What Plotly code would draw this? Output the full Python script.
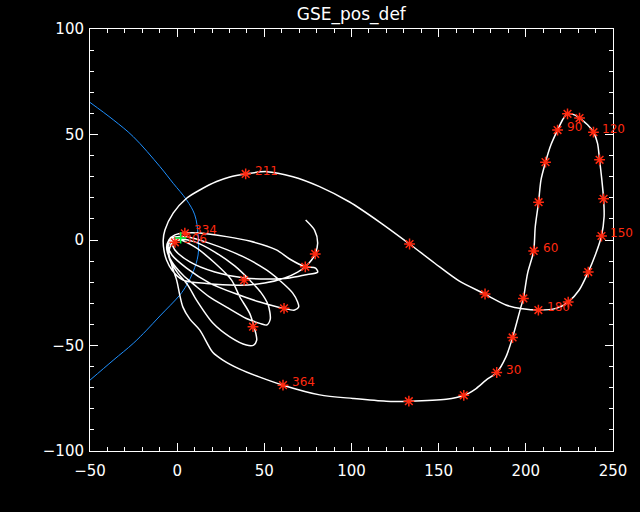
import plotly.graph_objects as go

# trajectory in GSE (Re), in time order
petal_x = [-3.6, -1.3, 7.3, 21.6, 38.8, 53.1, 64.5, 73.1, 80.6, 79.4, 73.5, 64.5, 56.9, 41.6, 28.3, 13.0, 4.4, -1.3, -4.8, -5.3,
           -3.0, 5.4, 18.7, 34.0, 47.4, 61.1, 67.4, 69.7, 69.1, 66.3, 60.5, 51.2, 37.8, 18.7, 6.1, -1.3, -5.3, -5.9,
           -3.0, 3.3, 10.1, 18.7, 28.3, 39.7, 47.4, 51.4, 53.4, 52.2, 47.9, 41.6, 33.0, 21.6, 10.1, 1.5, -3.0, -5.3,
           -4.2, 0.4, 6.1, 11.1, 20.6, 30.2, 39.7, 43.9, 45.6, 45.5, 44.1, 41.6, 35.9, 31.2, 21.6, 10.1, 1.5, -3.0]
petal_y = [-0.5, -4.7, -10.4, -15.2, -18.0, -18.5, -18.0, -16.6, -15.2, -13.3, -12.7, -9.0, -4.7, -0.5, 1.6, 3.3, 3.3, 2.4, 0.0, -2.8,
           -7.1, -13.3, -20.4, -25.6, -29.4, -32.4, -33.2, -31.8, -29.4, -25.2, -20.4, -14.2, -7.9, -1.6, 1.4, 1.4, -0.9, -4.7,
           -10.4, -16.6, -21.4, -27.1, -31.8, -37.2, -39.5, -40.3, -37.5, -30.8, -24.7, -19.0, -12.3, -5.7, -0.9, 0.5, 0.0, -3.3,
           -9.5, -15.7, -21.4, -28.5, -39.5, -45.9, -49.8, -49.8, -47.5, -45.9, -41.1, -34.8, -26.9, -19.0, -10.9, -3.3, 0.0, -0.9]

transfer_x = [-3.0, -4.8, -3.0, -0.3, 1.5, 3.3, 7.3, 13.0, 20.4, 26.2, 35.9, 47.4, 60.7, 81.8, 100.8, 119.9, 132.9,
              154.3, 164.4, 171.5, 177.2, 183.3, 188.6, 192.4, 197.2, 198.6, 201.0, 204.5, 205.4, 207.3, 208.7, 211.3,
              214.4, 218.2]
transfer_y = [-0.9, -5.7, -12.3, -19.0, -26.1, -31.8, -37.5, -42.7, -53.2, -56.9, -61.2, -65.0, -68.8, -73.4, -75.1,
              -76.4, -76.4, -75.5, -73.7, -70.4, -66.4, -62.8, -55.4, -46.2, -31.7, -27.7, -15.8, -5.2, 6.3, 17.9, 28.5,
              36.9, 45.1, 52.1]

halo_x = [218.2, 221.1, 223.9, 227.8, 230.8, 235.4, 238.8, 241.1, 242.3, 243.6, 244.6, 244.9, 243.4, 240.2, 235.8,
          230.6, 224.3, 217.3, 207.2, 198.2, 188.6, 181.0, 176.6]
halo_y = [52.1, 57.0, 59.8, 59.3, 57.8, 54.6, 51.1, 45.9, 38.0, 28.5, 19.5, 11.1, 1.9, -6.3, -15.2, -23.7, -29.4,
          -32.4, -33.2, -32.6, -30.8, -27.7, -25.6]

return_x = [176.6, 161.9, 147.6, 133.3, 116.1, 98.9, 81.7, 66.4, 51.2, 39.3, 30.2, 22.6, 13.0, 5.4, -2.3, -7.0, -8.0,
            -7.6, -6.1, -3.0, 3.4, 16.8, 35.9, 50.2, 61.7, 69.1, 73.5, 77.1, 79.2, 80.6, 78.8, 73.7]
return_y = [-25.6, -19.5, -10.9, -1.9, 8.5, 18.0, 25.3, 30.0, 32.4, 31.3, 29.9, 27.7, 23.7, 19.8, 12.7, 4.7, 0.0,
            -4.7, -9.5, -14.2, -19.0, -20.6, -21.4, -20.4, -18.0, -15.2, -12.7, -9.5, -6.6, -1.4, 4.7, 9.5]

# 10-day markers
mark_x = [4.4, -1.3, 38.4, 61.3, 43.5, 60.7, 132.9, 164.4, 183.3, 192.4, 198.6, 204.5, 207.3, 211.3, 218.2, 223.9,
          230.8, 238.8, 242.3, 244.6, 243.4, 235.8, 224.3, 207.2, 176.6, 133.3, 39.3, 73.5, 79.2]
mark_y = [3.2, -1.1, -19.0, -32.4, -41.1, -68.8, -76.4, -73.6, -62.8, -46.2, -27.7, -5.2, 17.9, 36.9, 52.1, 59.8,
          57.8, 51.1, 38.0, 19.5, 1.9, -15.2, -29.4, -33.2, -25.6, -1.9, 31.3, -12.7, -6.6]

# day labels
day_text = ["30", "60", "90", "120", "150", "180", "211", "334", "306", "364"]
day_x = [183.3, 204.5, 218.2, 238.8, 243.4, 207.2, 39.3, 4.4, -1.3, 60.7]
day_y = [-62.8, -5.2, 52.1, 51.1, 1.9, -33.2, 31.3, 3.2, -1.1, -68.8]

# bow shock
bs_x = [-50, -36.7, -25.2, -9.9, -2.3, 5.4, 10.1, 12.0, 12.0, 9.2, 5.4, 1.5, -9.9, -17.5, -25.2, -36.7, -50]
bs_y = [65.2, 57, 49, 34.8, 26.9, 19, 11.9, 2.4, -7.1, -15, -21.4, -26.1, -36, -42.7, -49, -57, -66.4]

earth_x = [2.0]
earth_y = [1.0]

RED = "#ff2a10"

path_x = petal_x + transfer_x + halo_x[1:] + return_x[1:]
path_y = petal_y + transfer_y + halo_y[1:] + return_y[1:]

fig = go.Figure()
fig.add_trace(go.Scatter(x=bs_x, y=bs_y, mode="lines",
                         line=dict(color="#1e90ff", width=1, shape="spline")))
fig.add_trace(go.Scatter(x=path_x, y=path_y, mode="lines",
                         line=dict(color="white", width=1.5, shape="spline", smoothing=0.8)))
fig.add_trace(go.Scatter(x=mark_x, y=mark_y, mode="markers",
                         marker=dict(symbol="asterisk-open", size=9, color=RED,
                                     line=dict(color=RED, width=1.5))))
fig.add_trace(go.Scatter(x=earth_x, y=earth_y, mode="markers",
                         marker=dict(symbol="cross-thin-open", size=8, color="#00ff40",
                                     line=dict(color="#00ff40", width=1.5))))

for t, x, y in zip(day_text, day_x, day_y):
    fig.add_annotation(x=x, y=y, text=t, showarrow=False, xanchor="left", yanchor="middle",
                       xshift=7, yshift=3, font=dict(color=RED, size=12, family="DejaVu Sans"))

axis_common = dict(showgrid=False, zeroline=False, showline=True, linecolor="white", linewidth=1,
                   mirror="ticks", ticks="inside", ticklen=8, tickcolor="white", tickwidth=1,
                   dtick=50, tickfont=dict(color="white", size=15, family="DejaVu Sans"),
                   minor=dict(ticks="inside", ticklen=4, dtick=10, tickcolor="white", tickwidth=1))

fig.update_layout(
    width=640, height=512,
    paper_bgcolor="black", plot_bgcolor="black",
    margin=dict(l=90, r=27, t=29, b=61),
    showlegend=False,
    title=dict(text="GSE_pos_def", x=0.549, xref="container", y=0.973, yref="container",
               xanchor="center", yanchor="middle",
               font=dict(color="white", size=17, family="DejaVu Sans")),
    xaxis=dict(range=[-50, 250], ticklabelstandoff=6, **axis_common),
    yaxis=dict(range=[-100, 100], ticklabelstandoff=2, **axis_common),
)

# drop the page's default body margin so the figure sits at the window corner
fig.write_html("out.html", config={"displayModeBar": False},
               post_script="document.body.style.margin='0';document.body.style.background='black';")
